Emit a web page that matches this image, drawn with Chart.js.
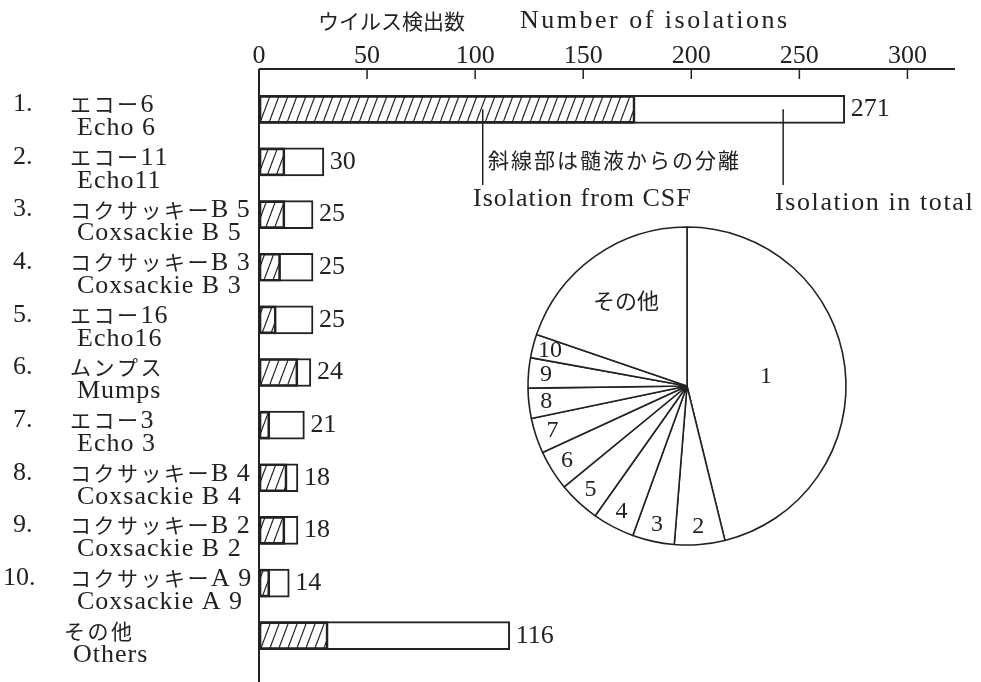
<!DOCTYPE html>
<html>
<head>
<meta charset="utf-8">
<script src="https://cdn.jsdelivr.net/npm/chart.js@4"></script>
<style>
  html, body { margin: 0; padding: 0; background: #fff; }
  #wrap { position: relative; width: 981px; height: 682px; }
  #bars { position: absolute; left: 0; top: 0; }
  #pie { position: absolute; left: 517px; top: 216px; }
</style>
</head>
<body>
<div id="wrap">
  <canvas id="bars" width="981" height="682"></canvas>
  <canvas id="pie" width="340" height="340"></canvas>
</div>
<script>
const ranks = ['1.', '2.', '3.', '4.', '5.', '6.', '7.', '8.', '9.', '10.', ''];
const namesJa = ['エコー6', 'エコー11', 'コクサッキーB 5', 'コクサッキーB 3', 'エコー16', 'ムンプス', 'エコー3', 'コクサッキーB 4', 'コクサッキーB 2', 'コクサッキーA 9', 'その他'];
const namesEn = ['Echo 6', 'Echo11', 'Coxsackie B 5', 'Coxsackie B 3', 'Echo16', 'Mumps', 'Echo 3', 'Coxsackie B 4', 'Coxsackie B 2', 'Coxsackie A 9', 'Others'];
const totals = [271, 30, 25, 25, 25, 24, 21, 18, 18, 14, 116];
const fromCsf = [174, 12, 12, 10, 8, 18, 5, 13, 12, 5, 32];
const xTicks = [0, 50, 100, 150, 200, 250, 300];
const pieLabels = ['1', '2', '3', '4', '5', '6', '7', '8', '9', '10', 'その他'];

const ink = '#222';
const serif = '"Liberation Serif", "Noto Sans CJK JP", serif';
const cjk = '"Noto Sans CJK JP", "Liberation Serif", sans-serif';

const barCanvas = document.getElementById('bars');

function hatchPattern() {
  const tile = document.createElement('canvas');
  tile.width = 9;
  tile.height = 24;
  const g = tile.getContext('2d');
  g.strokeStyle = ink;
  g.lineWidth = 1.2;
  for (const dx of [-9, 0, 9]) {
    g.beginPath();
    g.moveTo(dx, 24);
    g.lineTo(dx + 9, 0);
    g.stroke();
  }
  return barCanvas.getContext('2d').createPattern(tile, 'repeat');
}

function text(ctx, str, x, y, font, spacing = 0, align = 'left') {
  ctx.font = font;
  ctx.letterSpacing = spacing + 'px';
  ctx.textAlign = align;
  ctx.textBaseline = 'middle';
  ctx.fillText(str, x, y);
}

// Japanese line: kana in CJK font, latin letters/digits in the serif font
function mixedText(ctx, str, x, y) {
  ctx.textAlign = 'left';
  ctx.textBaseline = 'middle';
  let cx = x;
  for (const ch of str) {
    const latin = /[\x20-\x7e]/.test(ch);
    ctx.font = latin ? '26px ' + serif : '21px ' + cjk;
    ctx.letterSpacing = '0px';
    ctx.fillText(ch, cx, latin ? y + 1 : y);
    cx += ctx.measureText(ch).width + (latin ? 1 : 2.5);
  }
}

const barOverlay = {
  id: 'barOverlay',
  afterDraw(chart) {
    const { ctx, chartArea: area, scales: { x, y } } = chart;
    const axisY = area.top - 14;
    ctx.save();
    ctx.strokeStyle = ink;
    ctx.fillStyle = ink;

    // axes with inward ticks
    ctx.lineWidth = 2;
    ctx.beginPath();
    ctx.moveTo(x.left, axisY);
    ctx.lineTo(x.right, axisY);
    ctx.moveTo(x.left, axisY);
    ctx.lineTo(x.left, chart.height);
    ctx.stroke();
    ctx.lineWidth = 1.5;
    x.ticks.forEach(t => {
      const px = x.getPixelForValue(t.value);
      ctx.beginPath();
      ctx.moveTo(px, axisY);
      ctx.lineTo(px, axisY + 10);
      ctx.stroke();
    });

    // axis title
    text(ctx, 'ウイルス検出数', 318, 21, '21px ' + cjk);
    text(ctx, 'Number of isolations', 520, 21, '26px ' + serif, 2.5);

    // category labels
    namesEn.forEach((en, i) => {
      const yc = y.getPixelForValue(i);
      if (ranks[i]) text(ctx, ranks[i], i < 9 ? 13 : 3, yc - 5, '26px ' + serif);
      mixedText(ctx, namesJa[i], ranks[i] ? 70 : 64, yc - 5);
      text(ctx, en, ranks[i] ? 77 : 73, yc + 19, '26px ' + serif, 1);
    });

    // totals at bar ends
    chart.getDatasetMeta(1).data.forEach((bar, i) => {
      text(ctx, String(totals[i]), bar.x + 6, bar.y, '26px ' + serif);
    });

    // leader lines and notes
    const top = chart.getDatasetMeta(1).data[0].y;
    ctx.lineWidth = 1.5;
    [103.5, 242.5].forEach(v => {
      const px = x.getPixelForValue(v);
      ctx.beginPath();
      ctx.moveTo(px, top);
      ctx.lineTo(px, 185);
      ctx.stroke();
    });
    text(ctx, '斜線部は髄液からの分離', 488, 160, '21px ' + cjk, 2);
    text(ctx, 'Isolation from CSF', 473, 199, '26px ' + serif, 1);
    text(ctx, 'Isolation in total', 775, 203, '26px ' + serif, 1.6);
    ctx.restore();
  }
};

new Chart(barCanvas, {
  type: 'bar',
  data: {
    labels: namesEn,
    datasets: [
      {
        label: 'Isolation from CSF',
        data: fromCsf,
        backgroundColor: hatchPattern(),
        borderColor: ink,
        borderWidth: 2,
        borderSkipped: false,
        barThickness: 28,
        grouped: false,
      },
      {
        label: 'Isolation in total',
        data: totals,
        backgroundColor: '#fff',
        borderColor: ink,
        borderWidth: 2,
        borderSkipped: false,
        barThickness: 28,
        grouped: false,
      },
    ],
  },
  options: {
    indexAxis: 'y',
    responsive: false,
    animation: false,
    events: [],
    layout: { padding: { left: 259, right: 26, top: 0, bottom: 20 } },
    plugins: { legend: { display: false }, tooltip: { enabled: false } },
    scales: {
      x: {
        position: 'top',
        min: 0,
        max: 322,
        grid: { display: false },
        border: { display: false },
        afterBuildTicks: scale => { scale.ticks = xTicks.map(value => ({ value })); },
        afterFit: scale => { scale.height = 83; },
        ticks: {
          color: ink,
          padding: 3,
          font: { family: serif, size: 26 },
        },
      },
      y: {
        display: false,
      },
    },
  },
  plugins: [barOverlay],
});

const pieText = {
  id: 'pieText',
  afterDraw(chart) {
    const { ctx } = chart;
    ctx.save();
    ctx.fillStyle = ink;
    chart.getDatasetMeta(0).data.forEach((arc, i) => {
      const { x, y, startAngle, endAngle, outerRadius } =
        arc.getProps(['x', 'y', 'startAngle', 'endAngle', 'outerRadius'], true);
      const span = endAngle - startAngle;
      const f = span > 2 ? 0.5 : span > 1 ? 0.66 : 0.89;
      const mid = (startAngle + endAngle) / 2;
      const font = /\d/.test(pieLabels[i]) ? '24px ' + serif : '22px ' + cjk;
      text(ctx, pieLabels[i], x + Math.cos(mid) * outerRadius * f, y + Math.sin(mid) * outerRadius * f, font, 0, 'center');
    });
    ctx.restore();
  }
};

new Chart(document.getElementById('pie'), {
  type: 'pie',
  data: {
    labels: pieLabels,
    datasets: [{
      data: totals,
      backgroundColor: '#fff',
      borderColor: ink,
      borderWidth: 1.6,
      radius: 159,
    }],
  },
  options: {
    responsive: false,
    animation: false,
    events: [],
    layout: { padding: 0 },
    plugins: { legend: { display: false }, tooltip: { enabled: false } },
  },
  plugins: [pieText],
});
</script>
</body>
</html>
